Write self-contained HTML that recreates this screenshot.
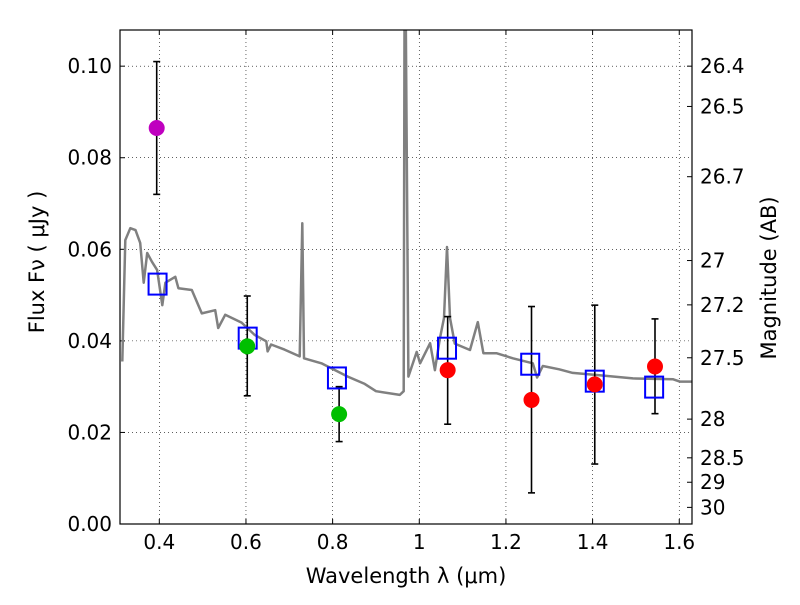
<!DOCTYPE html>
<html><head><meta charset="utf-8"><style>
body{margin:0;background:#fff;font-family:"Liberation Sans","DejaVu Sans",sans-serif}
svg text{font-family:"DejaVu Sans","Liberation Sans",sans-serif;fill:#000}
</style></head><body>
<svg id="chart" width="800" height="600" xmlns="http://www.w3.org/2000/svg"></svg>
<script>
const xTicks=[0.4,0.6,0.8,1.0,1.2,1.4,1.6];
const xTickLabels=["0.4","0.6","0.8","1","1.2","1.4","1.6"];
const yTicks=[0,0.02,0.04,0.06,0.08,0.10];
const yTickLabels=["0.00","0.02","0.04","0.06","0.08","0.10"];
const magTicks=[26.4,26.5,26.7,27,27.2,27.5,28,28.5,29,30];
const specWave=[0.3145,0.3215,0.333,0.345,0.356,0.364,0.372,0.383,0.395,0.407,0.414,0.437,0.444,0.475,0.498,0.529,0.536,0.552,0.590,0.62,0.647,0.65,0.658,0.689,0.724,0.730,0.734,0.774,0.835,0.874,0.9,0.955,0.964,0.966,0.969,0.975,0.994,1.002,1.025,1.036,1.047,1.057,1.064,1.071,1.082,1.117,1.135,1.148,1.178,1.216,1.262,1.272,1.285,1.323,1.354,1.416,1.493,1.586,1.601,1.63];
const specFlux=[0.0355,0.062,0.0646,0.0642,0.0614,0.0527,0.0592,0.0573,0.0555,0.0478,0.0527,0.054,0.0515,0.0511,0.046,0.0467,0.0428,0.0457,0.044,0.0413,0.0399,0.0377,0.0392,0.0381,0.0366,0.0657,0.0362,0.0351,0.0322,0.0306,0.029,0.0282,0.029,0.11,0.11,0.0322,0.0376,0.0351,0.0395,0.0336,0.0402,0.045,0.0605,0.045,0.0394,0.038,0.0441,0.0373,0.0373,0.0362,0.0351,0.032,0.0345,0.0338,0.033,0.0325,0.0318,0.0316,0.0311,0.0311];
const photWave=[0.394,0.603,0.815,1.0655,1.259,1.405,1.544];
const photFlux=[0.0865,0.0388,0.024,0.0336,0.0271,0.0305,0.0344];
const photLo=[0.072,0.028,0.018,0.0218,0.0068,0.0131,0.0241];
const photHi=[0.101,0.0498,0.030,0.0453,0.0475,0.0478,0.0448];
const photColor=["#bf00bf","#00bf00","#00bf00","#ff0000","#ff0000","#ff0000","#ff0000"];
const modelWave=[0.396,0.604,0.81,1.064,1.256,1.405,1.542];
const modelFlux=[0.0524,0.0406,0.0319,0.0384,0.0349,0.0312,0.0299];

const L=120,R=692,T=30,B=524,X0=0.3093,X1=1.6294,Y0=0,Y1=0.1079;
const sx=v=>L+(v-X0)/(X1-X0)*(R-L);
const sy=v=>B-(v-Y0)/(Y1-Y0)*(B-T);
const svg=document.getElementById('chart');
const NS="http://www.w3.org/2000/svg";
function mk(tag,at,txt){const e=document.createElementNS(NS,tag);for(const k in at)e.setAttribute(k,at[k]);if(txt!==undefined)e.textContent=txt;svg.appendChild(e);return e;}
const defs=mk('defs',{});const cp=document.createElementNS(NS,'clipPath');cp.setAttribute('id','c');const cr=document.createElementNS(NS,'rect');cr.setAttribute('x',L);cr.setAttribute('y',T);cr.setAttribute('width',R-L);cr.setAttribute('height',B-T);cp.appendChild(cr);defs.appendChild(cp);
xTicks.forEach((v,i)=>{const x=sx(v);
 let g=mk('line',{x1:x,x2:x,y1:T,y2:B,stroke:'#000','stroke-width':0.6,'stroke-dasharray':'1,3'});
 
 mk('line',{x1:x,x2:x,y1:B,y2:B-5,stroke:'#000'});mk('line',{x1:x,x2:x,y1:T,y2:T+5,stroke:'#000'});
 let t=mk('text',{x:x,y:B+25,'text-anchor':'middle','font-size':20},xTickLabels[i]);
 });
yTicks.forEach((v,i)=>{const y=sy(v);
 let g=mk('line',{x1:L,x2:R,y1:y,y2:y,stroke:'#000','stroke-width':0.6,'stroke-dasharray':'1,3'});
 
 mk('line',{x1:L,x2:L+5,y1:y,y2:y,stroke:'#000'});
 let t=mk('text',{x:L-8,y:y+7,'text-anchor':'end','font-size':20},yTickLabels[i]);
 });
magTicks.forEach(m=>{const f=Math.pow(10,(23.9-m)/2.5);const y=sy(f);
 mk('line',{x1:R,x2:R-5,y1:y,y2:y,stroke:'#000'});
 let t=mk('text',{x:R+8,y:y+7,'font-size':20},String(m));
 });
let d=specWave.map((w,i)=>(i?'L':'M')+sx(w).toFixed(1)+','+sy(specFlux[i]).toFixed(1)).join('');
let sp=mk('path',{d:d,fill:'none',stroke:'#808080','stroke-width':2.5,'stroke-linejoin':'round','clip-path':'url(#c)'});

photWave.forEach((w,i)=>{const x=sx(w);
 let e=mk('line',{x1:x,x2:x,y1:sy(photLo[i]),y2:sy(photHi[i]),stroke:'#000','stroke-width':1.6});
 
 mk('line',{x1:x-3.5,x2:x+3.5,y1:sy(photLo[i]),y2:sy(photLo[i]),stroke:'#000','stroke-width':1.6});
 mk('line',{x1:x-3.5,x2:x+3.5,y1:sy(photHi[i]),y2:sy(photHi[i]),stroke:'#000','stroke-width':1.6});});
modelWave.forEach((w,i)=>{let s=mk('rect',{x:sx(w)-9,y:sy(modelFlux[i])-10.5,width:18,height:21,fill:'none',stroke:'#0000ff','stroke-width':2});
 });
photWave.forEach((w,i)=>{let c=mk('circle',{cx:sx(w),cy:sy(photFlux[i]),r:8,fill:photColor[i]});
 });
let fr=mk('rect',{x:L,y:T,width:R-L,height:B-T,fill:'none',stroke:'#000','stroke-width':1.2});

let xl=mk('text',{x:406,y:583,'text-anchor':'middle','font-size':21},'Wavelength  λ (μm)');

let yl=mk('text',{x:44,y:262,'text-anchor':'middle','font-size':21,transform:'rotate(-90 44 262)'},'Flux  Fν  ( μJy )');

let ml=mk('text',{x:776,y:278,'text-anchor':'middle','font-size':21,transform:'rotate(-90 776 278)'},'Magnitude (AB)');

</script>
</body></html>
